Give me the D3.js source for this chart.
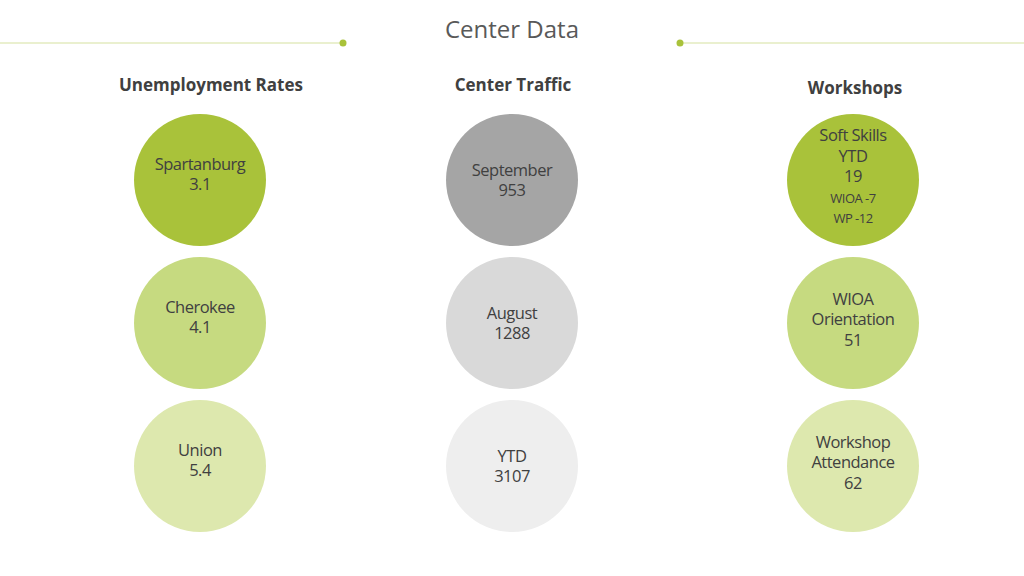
<!DOCTYPE html>
<html><head><meta charset="utf-8">
<script src="https://cdn.jsdelivr.net/npm/d3@7"></script>
<style>body{margin:0;background:#fff;}</style>
</head><body>
<svg id="chart" width="1024" height="576"></svg>
<script>
/* ── DATA ── */
const groups     = ['Unemployment Rates', 'Center Traffic', 'Workshops'];
const unemploy   = [['Spartanburg', '3.1'], ['Cherokee', '4.1'], ['Union', '5.4']];
const traffic    = [['September', '953'], ['August', '1288'], ['YTD', '3107']];
const workshops  = [['Soft Skills', 'YTD', '19', 'WIOA -7', 'WP -12'], ['WIOA', 'Orientation', '51'], ['Workshop', 'Attendance', '62']];
const smallLines = ['WIOA -7', 'WP -12'];

const GREENS = ['#a9c23a', '#c6da80', '#dde8ae'];
const GREYS  = ['#a5a5a5', '#d9d9d9', '#eeeeee'];

const svg = d3.select('#chart');
const FONT = "'Open Sans', 'Liberation Sans', sans-serif";

/* ── TITLE + RULES ── */
svg.append('text').attr('x', 512).attr('y', 38).attr('text-anchor', 'middle')
  .attr('font-family', FONT).attr('font-size', 24).attr('fill', '#595959').text('Center Data');
[[0, 343], [680, 1024]].forEach(([a, b], i) => {
  svg.append('line').attr('x1', a).attr('x2', b).attr('y1', 43).attr('y2', 43)
    .attr('stroke', '#d6e2a0').attr('stroke-width', 1.2);
  svg.append('circle').attr('cx', i ? a : b).attr('cy', 43).attr('r', 3.5).attr('fill', '#a9c23a');
});

/* ── SCALES ── */
const x = d3.scaleOrdinal().domain(groups).range([200, 512, 853]);
const hx = d3.scaleOrdinal().domain(groups).range([211, 513, 855]);
const hy = d3.scaleOrdinal().domain(groups).range([91, 91, 94]);
const y = d3.scalePoint().domain([0, 1, 2]).range([180, 466]);
const shift = d3.scaleOrdinal().domain(groups).range([-6, 0, -4]);

const cols = [
  { g: groups[0], items: unemploy, fill: GREENS },
  { g: groups[1], items: traffic, fill: GREYS },
  { g: groups[2], items: workshops, fill: GREENS },
];

cols.forEach(c => {
  svg.append('text').attr('x', hx(c.g)).attr('y', hy(c.g)).attr('text-anchor', 'middle')
    .attr('font-family', FONT).attr('font-weight', 'bold').attr('font-size', 17)
    .attr('fill', '#404040').text(c.g);

  c.items.forEach((lines, i) => {
    const cx = x(c.g), cy = y(i);
    svg.append('circle').attr('cx', cx).attr('cy', cy).attr('r', 66).attr('fill', c.fill[i]);
    const lh = 20.5;
    const top = cy + shift(c.g) - (lines.length - 1) * lh / 2;
    lines.forEach((t, j) => {
      svg.append('text').attr('x', cx).attr('y', top + j * lh + 6).attr('text-anchor', 'middle')
        .attr('font-family', FONT).attr('font-size', smallLines.includes(t) ? 13 : 16.5)
        .attr('letter-spacing', -0.5).attr('fill', '#404040').text(t);
    });
  });
});
</script>
</body></html>
